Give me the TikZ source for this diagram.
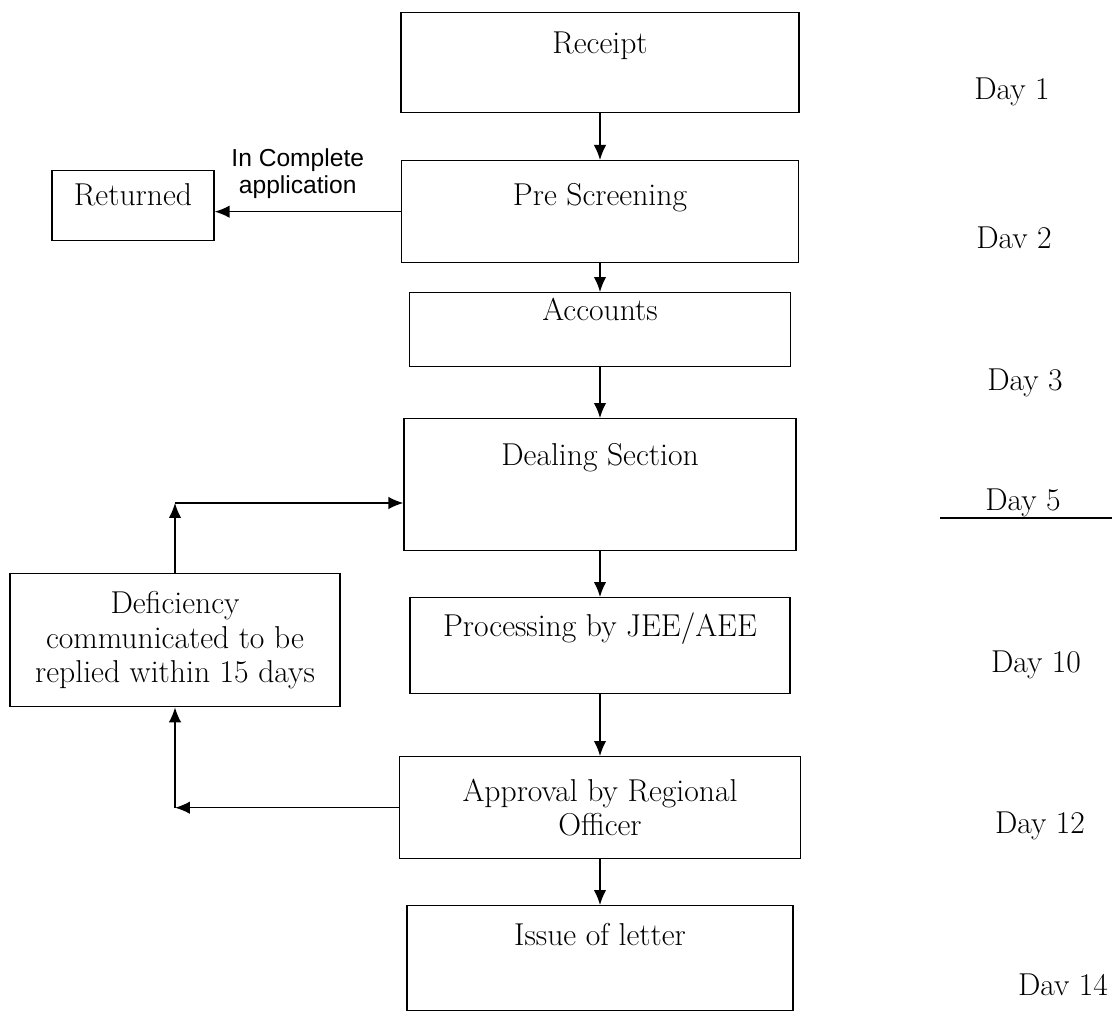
\documentclass[tikz,border=0pt]{standalone}
\usepackage{fontspec}
\newfontfamily\notefont{Liberation Sans}
\usetikzlibrary{arrows.meta}
\tikzset{
  stepbox/.style={shape=rectangle, draw=black, line width=0.8pt, inner sep=0pt, anchor=north, font=\fontsize{18}{19.5}\selectfont},
  flow/.style={line width=0.8pt, -{Latex[length=3mm,width=2.5mm]}},
  daylabel/.style={font=\fontsize{18}{20}\selectfont}
}
\begin{document}
\begin{tikzpicture}[x=0.02cm,y=-0.02cm]
                \useasboundingbox (0,0) rectangle (1112,1013);

                \node[stepbox, minimum width=7.96cm, text height=0.82cm, text depth=1.18cm] (receipt) at (600,12) {Receipt};
                \node[stepbox, minimum width=7.94cm, text height=0.9cm, text depth=1.14cm] (prescreen) at (600,160) {Pre Screening};
                \node[stepbox, minimum width=3.24cm, text height=0.7cm, text depth=0.7cm] (returned) at (133,170) {Returned};
                \node[stepbox, minimum width=7.62cm, text height=0.56cm, text depth=0.92cm] (accounts) at (600,292) {Accounts};
                \node[stepbox, minimum width=7.84cm, text height=0.94cm, text depth=1.7cm] (dealing) at (600,418) {Dealing Section};
                \node[stepbox, minimum width=7.6cm, text height=0.78cm, text depth=1.14cm] (processing) at (600,597) {Processing by JEE/AEE};
                \node[stepbox, minimum width=8.02cm, minimum height=2.04cm, align=center] (approval) at (600,756) {Approval by Regional\\Officer};
                \node[stepbox, minimum width=7.72cm, text height=0.8cm, text depth=1.3cm] (issue) at (600,905) {Issue of letter};
                \node[stepbox, minimum width=6.6cm, minimum height=2.66cm, align=center] (deficiency) at (175,573) {Deficiency\\communicated to be\\replied within 15 days};

                \draw[flow] (receipt) edge (prescreen);
                \draw[flow] (prescreen) edge (accounts);
                \draw[flow] (accounts) edge (dealing);
                \draw[flow] (dealing) edge (processing);
                \draw[flow] (processing) edge (approval);
                \draw[flow] (approval) edge (issue);

                \draw[flow] (prescreen.west) -- node[above, align=center, inner sep=2pt, xshift=-0.2cm, yshift=0.18cm, font=\notefont\fontsize{14}{15.5}\selectfont] {In Complete\\application} (prescreen.west -| returned.east);

                \coordinate (lowbend) at (deficiency.south |- approval.west);
                \coordinate (highbend) at (175,503);
                \draw[flow] (approval.west) -- (lowbend);
                \draw[flow] (lowbend) -- (deficiency.south);
                \draw[flow] (deficiency.north) -- (highbend);
                \draw[flow] (highbend) -- (highbend -| dealing.west);

                \node[daylabel] (day1) at (1012,92) {Day 1};
                \node[daylabel] (day2) at (1014,238) {Dav 2};
                \node[daylabel] (day3) at (1025,383) {Day 3};
                \node[daylabel] (day5) at (1023,503) {Day 5};
                \node[daylabel] (day10) at (1036,665) {Day 10};
                \node[daylabel] (day12) at (1040,826) {Day 12};
                \node[daylabel] (day14) at (1063,985) {Dav 14};

                \coordinate (rulestart) at (940,518);
                \coordinate (ruleend) at (1112,518);
                \draw[line width=0.8pt] (rulestart) -- (ruleend);

            \end{tikzpicture}
\end{document}
